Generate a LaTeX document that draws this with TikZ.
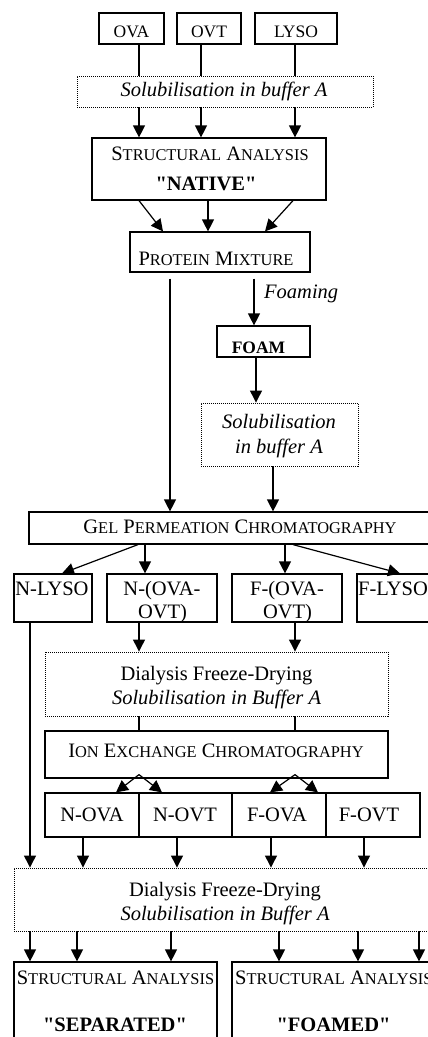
\documentclass[tikz,border=0pt]{standalone}
\usepackage{fontspec}
\setmainfont{Liberation Serif}[Ligatures=TeXOff]
\usepackage{tikz}
\usetikzlibrary{arrows.meta}
\newcommand{\sct}[1]{{\fontsize{16.4}{20}\selectfont #1}}
\begin{document}
\begin{tikzpicture}
		[x=1pt,y=-1pt,every node/.style={inner sep=0pt},
		 box/.style={draw=black, line width=1.2pt},
		 dotbox/.style={draw=black, line width=0.9pt, dash pattern=on 1pt off 1pt},
		 txt/.style={anchor=base, font=\fontsize{20.5}{24}\selectfont},
		 small/.style={anchor=base, font=\fontsize{17.5}{20}\selectfont},
		 link/.style={line width=1.2pt, color=black},
		 arr/.style={line width=1.2pt, color=black, -{Triangle[width=12pt,length=12pt]}}]
		\useasboundingbox (0,0) rectangle (428,1037);
		\clip (0,0) rectangle (428,1037);
		% boxes
		\node (ova) [box, minimum width=65, minimum height=31] at (131.5, 28.5) {};
		\node (ovt) [box, minimum width=64, minimum height=31] at (209, 28.5) {};
		\node (lyso) [box, minimum width=82, minimum height=31] at (296, 28.5) {};
		\node (sol1) [dotbox, minimum width=296, minimum height=31] at (225, 91.5) {};
		\node (native) [box, minimum width=234, minimum height=62] at (209, 169) {};
		\node (mix) [box, minimum width=180, minimum height=40] at (220, 252) {};
		\node (foam) [box, minimum width=93, minimum height=31] at (263.5, 341.5) {};
		\node (sol2) [dotbox, minimum width=157, minimum height=63] at (279.5, 434.5) {};
		\node (gpc) [box, minimum width=421, minimum height=32] at (239.5, 528) {};
		\node (nlyso) [box, minimum width=78, minimum height=48] at (53, 598) {};
		\node (nmix) [box, minimum width=110, minimum height=48] at (162, 598) {};
		\node (fmix) [box, minimum width=110, minimum height=48] at (287, 598) {};
		\node (flyso) [box, minimum width=78, minimum height=48] at (396, 598) {};
		\node (dia1) [dotbox, minimum width=343, minimum height=64] at (216.5, 684) {};
		\node (iec) [box, minimum width=343, minimum height=47] at (216.5, 754.5) {};
		\node (nova) [box, minimum width=94, minimum height=44] at (92, 815) {};
		\node (novt) [box, minimum width=93, minimum height=44] at (185.5, 815) {};
		\node (fova) [box, minimum width=94, minimum height=44] at (279, 815) {};
		\node (fovt) [box, minimum width=94, minimum height=44] at (373, 815) {};
		\node (dia2) [dotbox, minimum width=422, minimum height=63] at (225, 899.5) {};
		\node (sep) [box, minimum width=203, minimum height=83] at (115.5, 1003.5) {};
		\node (fmd) [box, minimum width=203, minimum height=83] at (333.5, 1003.5) {};
		% texts
		\node (tova) [small] at (131.5, 37) {OVA};
		\node (tovt) [small] at (209, 37) {OVT};
		\node (tlyso) [small] at (296, 37) {LYSO};
		\node (tsol1) [txt] at (224, 96) {\itshape Solubilisation in buffer A};
		\node (tsa1) [txt] at (210, 160) {S\sct{TRUCTURAL} A\sct{NALYSIS}};
		\node (tnat) [txt] at (206, 190) {\bfseries "NATIVE"};
		\node (tmix) [txt] at (216, 265) {P\sct{ROTEIN} M\sct{IXTURE}};
		\node (tfoaming) [txt, anchor=base west] at (264, 298) {\itshape Foaming};
		\node (tfoam) [small] at (258.5, 353) {\bfseries FOAM};
		\node (tsol2a) [txt] at (279, 428) {\itshape Solubilisation};
		\node (tsol2b) [txt] at (279, 453) {\itshape in buffer A};
		\node (tgpc) [txt] at (240, 533) {G\sct{EL} P\sct{ERMEATION} C\sct{HROMATOGRAPHY}};
		\node (tnlyso) [txt] at (52, 595) {N-LYSO};
		\node (tnmix) [txt] at (162, 595) {N-(OVA-};
		\node (tnmix2) [txt] at (162.5, 618) {OVT)};
		\node (tfmix) [txt] at (287, 595) {F-(OVA-};
		\node (tfmix2) [txt] at (287.5, 618) {OVT)};
		\node (tflyso) [txt, anchor=base west] at (358, 595) {F-LYSO};
		\node (tdia1a) [txt] at (216.5, 680) {Dialysis Freeze-Drying};
		\node (tdia1b) [txt] at (216.5, 704) {\itshape Solubilisation in Buffer A};
		\node (tiec) [txt] at (216, 757) {I\sct{ON} E\sct{XCHANGE} C\sct{HROMATOGRAPHY}};
		\node (tnova) [txt] at (92, 821) {N-OVA};
		\node (tnovt) [txt] at (185, 821) {N-OVT};
		\node (tfova) [txt] at (277, 821) {F-OVA};
		\node (tfovt) [txt] at (369, 821) {F-OVT};
		\node (tdia2a) [txt] at (225, 896) {Dialysis Freeze-Drying};
		\node (tdia2b) [txt] at (225, 920) {\itshape Solubilisation in Buffer A};
		\node (tsa2) [txt] at (115.5, 984) {S\sct{TRUCTURAL} A\sct{NALYSIS}};
		\node (tsepa) [txt] at (115, 1031) {\bfseries "SEPARATED"};
		\node (tsa3) [txt, anchor=base west] at (235, 984) {S\sct{TRUCTURAL} A\sct{NALYSIS}};
		\node (tfmd) [txt] at (333.5, 1031) {\bfseries "FOAMED"};
		% columns
		\coordinate (ca) at (139, 0);
		\coordinate (cb) at (201, 0);
		\coordinate (cc) at (295, 0);
		% top part
		\draw [link] (ova.south -| ca) to (sol1.north -| ca);
		\draw [link] (ovt.south -| cb) to (sol1.north -| cb);
		\draw [link] (lyso.south -| cc) to (sol1.north -| cc);
		\draw [arr] (sol1.south -| ca) to (native.north -| ca);
		\draw [arr] (sol1.south -| cb) to (native.north -| cb);
		\draw [arr] (sol1.south -| cc) to (native.north -| cc);
		\draw [arr] (native.south -| ca) to ([xshift=24pt]mix.north -| ca);
		\draw [arr] ([xshift=-1pt]native.south) to ([xshift=-1pt]mix.north -| native.south);
		\draw [arr] ([xshift=-2pt]native.south -| cc) to ([xshift=-30pt]mix.north -| cc);
		\draw [arr] ([yshift=-6pt,xshift=-50pt]mix.south) to ([xshift=-50pt]gpc.north -| mix.south);
		\draw [arr] ([yshift=-6pt,xshift=34pt]mix.south) to (foam.north -| 254,0);
		\draw [arr] (foam.south -| 256,0) to (sol2.north -| 256,0);
		\draw [arr] (sol2.south -| 273,0) to (gpc.north -| 273,0);
		% gel permeation
		\draw [arr] ([xshift=-1pt]gpc.south -| ca) to (nlyso.north -| 62,0);
		\draw [arr] ([xshift=6pt]gpc.south -| ca) to ([xshift=6pt]nmix.north -| ca);
		\draw [arr] ([xshift=-10pt]gpc.south -| cc) to ([xshift=-10pt]fmix.north -| cc);
		\draw [arr] ([xshift=-2pt]gpc.south -| cc) to (flyso.north -| 400,0);
		% dialysis and ion exchange
		\draw [arr] ([xshift=-23pt]nlyso.south) to ([xshift=-23pt]dia2.north -| nlyso.south);
		\draw [arr] (nmix.south -| ca) to (dia1.north -| ca);
		\draw [arr] (fmix.south -| cc) to (dia1.north -| cc);
		\draw [link] (dia1.south -| ca) to (iec.north -| ca);
		\draw [link] (dia1.south -| cc) to (iec.north -| cc);
		\coordinate (apa) at ([yshift=4pt]iec.south -| ca);
		\coordinate (apc) at ([yshift=4pt]iec.south -| cc);
		\draw [arr] (apa) to (nova.north -| 116,0);
		\draw [arr] (apa) to (novt.north -| 162,0);
		\draw [arr] (apc) to (fova.north -| 270,0);
		\draw [arr] (apc) to (fovt.north -| 318,0);
		\draw [arr] (nova.south -| 83,0) to (dia2.north -| 83,0);
		\draw [arr] (novt.south -| 177,0) to (dia2.north -| 177,0);
		\draw [arr] (fova.south -| 271,0) to (dia2.north -| 271,0);
		\draw [arr] (fovt.south -| 364,0) to (dia2.north -| 364,0);
		% structural analysis
		\draw [arr] (dia2.south -| 30,0) to (sep.north -| 30,0);
		\draw [arr] (dia2.south -| 77,0) to (sep.north -| 77,0);
		\draw [arr] (dia2.south -| 171,0) to (sep.north -| 171,0);
		\draw [arr] (dia2.south -| 279,0) to (fmd.north -| 279,0);
		\draw [arr] (dia2.south -| 358,0) to (fmd.north -| 358,0);
		\draw [arr] (dia2.south -| 419,0) to (fmd.north -| 419,0);
\end{tikzpicture}
\end{document}
